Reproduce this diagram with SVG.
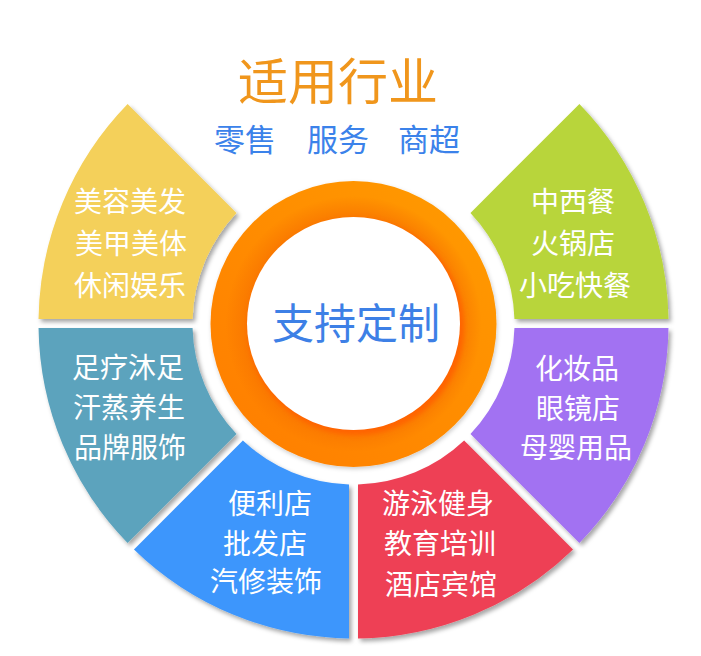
<svg xmlns="http://www.w3.org/2000/svg" width="701" height="656" viewBox="0 0 701 656">
  <defs>
    <style>
      .seg { filter: url(#shadow); }
      .lbl { font-family: "Noto Sans CJK SC", "Noto Sans", sans-serif; font-size: 28px; fill: #ffffff; text-anchor: middle; }
      .title { font-family: "Noto Sans CJK SC", "Noto Sans", sans-serif; font-size: 50px; fill: #F0961C; text-anchor: middle; }
      .sub { font-family: "Noto Sans CJK SC", "Noto Sans", sans-serif; font-size: 31px; fill: #3B82EA; }
      .core { font-family: "Noto Sans CJK SC", "Noto Sans", sans-serif; font-size: 42px; fill: #3D80E6; text-anchor: middle; }
    </style>
    <filter id="shadow" x="-10%" y="-10%" width="130%" height="130%">
      <feDropShadow dx="2.5" dy="3" stdDeviation="2" flood-color="#000000" flood-opacity="0.35"/>
    </filter>
    <filter id="ringShadow" x="-10%" y="-10%" width="120%" height="120%">
      <feDropShadow dx="1" dy="2" stdDeviation="2" flood-color="#000000" flood-opacity="0.2"/>
    </filter>
    <filter id="blur3" x="-10%" y="-10%" width="120%" height="120%">
      <feGaussianBlur stdDeviation="2.5"/>
    </filter>
    <linearGradient id="ringGrad" x1="1" y1="0" x2="0" y2="1">
      <stop offset="0" stop-color="#FF9C00"/>
      <stop offset="1" stop-color="#FF7C00"/>
    </linearGradient>
    <radialGradient id="bandGrad" cx="0.5" cy="0.5" r="0.5">
      <stop offset="0.80" stop-color="#F87400" stop-opacity="0.9"/>
      <stop offset="1" stop-color="#F87400" stop-opacity="0"/>
    </radialGradient>
  </defs>
  <rect width="701" height="656" fill="#ffffff"/>

  <g id="title">
    <text class="title" x="338" y="100">适用行业</text>
  </g>
  <g id="subtitle">
    <text class="sub" x="214" y="151">零售</text>
    <text class="sub" x="307" y="151">服务</text>
    <text class="sub" x="398" y="151">商超</text>
  </g>

  <g id="seg-yellow">
    <path class="seg" fill="#F4D05A" d="M 38.53 319 A 315 315 0 0 1 127.60 103.97 L 236.52 212.88 A 161 161 0 0 0 192.56 319 Z"/>
    <text class="lbl" x="130" y="212">美容美发</text>
    <text class="lbl" x="131" y="254">美甲美体</text>
    <text class="lbl" x="130" y="296">休闲娱乐</text>
  </g>

  <g id="seg-green">
    <path class="seg" fill="#B8D53B" d="M 579.40 103.97 A 315 315 0 0 1 668.47 319 L 514.44 319 A 161 161 0 0 0 470.48 212.88 Z"/>
    <text class="lbl" x="573" y="212">中西餐</text>
    <text class="lbl" x="573" y="254">火锅店</text>
    <text class="lbl" x="575" y="296">小吃快餐</text>
  </g>

  <g id="seg-teal">
    <path class="seg" fill="#5CA3BD" d="M 127.60 543.03 A 315 315 0 0 1 38.53 328 L 192.56 328 A 161 161 0 0 0 236.52 434.12 Z"/>
    <text class="lbl" x="128" y="378">足疗沐足</text>
    <text class="lbl" x="129" y="418">汗蒸养生</text>
    <text class="lbl" x="130" y="458">品牌服饰</text>
  </g>

  <g id="seg-purple">
    <path class="seg" fill="#A272F2" d="M 668.47 328 A 315 315 0 0 1 579.40 543.03 L 470.48 434.12 A 161 161 0 0 0 514.44 328 Z"/>
    <text class="lbl" x="577" y="379">化妆品</text>
    <text class="lbl" x="578" y="419">眼镜店</text>
    <text class="lbl" x="576" y="458">母婴用品</text>
  </g>

  <g id="seg-blue">
    <path class="seg" fill="#3E96FC" d="M 349 638.47 A 315 315 0 0 1 133.97 549.40 L 242.88 440.48 A 161 161 0 0 0 349 484.44 Z"/>
    <text class="lbl" x="270" y="514">便利店</text>
    <text class="lbl" x="265" y="554">批发店</text>
    <text class="lbl" x="266" y="592">汽修装饰</text>
  </g>

  <g id="seg-red">
    <path class="seg" fill="#EE4155" d="M 573.03 549.40 A 315 315 0 0 1 358 638.47 L 358 484.44 A 161 161 0 0 0 464.12 440.48 Z"/>
    <text class="lbl" x="438" y="514">游泳健身</text>
    <text class="lbl" x="440" y="554">教育培训</text>
    <text class="lbl" x="441" y="595">酒店宾馆</text>
  </g>

  <g id="center">
    <circle cx="353.5" cy="324" r="143" fill="url(#ringGrad)" filter="url(#ringShadow)"/>
    <circle cx="353.5" cy="324" r="128" fill="url(#bandGrad)"/>
    <circle cx="356" cy="327" r="108" fill="#FF6400" filter="url(#blur3)"/>
    <circle cx="353.5" cy="323.5" r="106.5" fill="#ffffff"/>
    <text class="core" x="356" y="339">支持定制</text>
  </g>
</svg>
